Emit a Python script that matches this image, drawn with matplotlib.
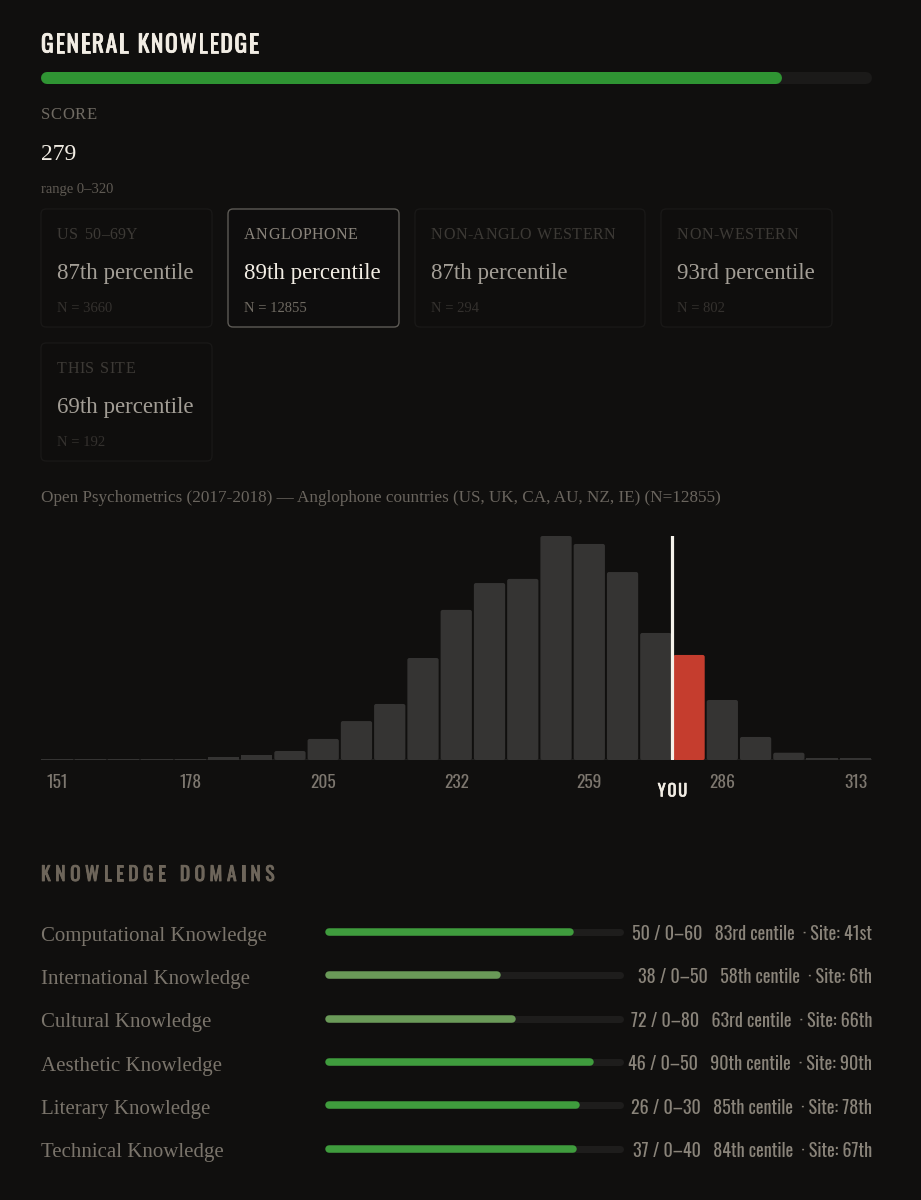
import matplotlib
matplotlib.use("Agg")
import matplotlib.pyplot as plt
from matplotlib import font_manager as fm
from matplotlib.patches import FancyBboxPatch
import matplotlib.patheffects as pe

# ---------------- data ----------------
title = "GENERAL KNOWLEDGE"
score = 279
score_min, score_max = 0, 320
overall_percentile = 89

card_groups = ["US 50–69Y", "ANGLOPHONE", "NON-ANGLO WESTERN", "NON-WESTERN", "THIS SITE"]
card_percentiles = [87, 89, 87, 93, 69]
card_ns = [3660, 12855, 294, 802, 192]
card_active = [False, True, False, False, False]

source_text = "Open Psychometrics (2017-2018) — Anglophone countries (US, UK, CA, AU, NZ, IE) (N=12855)"

hist_bin_start = 151
hist_bin_width = 6.75
hist_counts = [8, 8, 8, 8, 11, 23, 35, 68, 159, 294, 423, 770, 1133, 1336, 1367,
               1691, 1631, 1419, 959, 793, 453, 174, 55, 15, 15]
hist_tick_labels = [151, 178, 205, 232, 259, 286, 313]

domain_names = ["Computational Knowledge", "International Knowledge", "Cultural Knowledge",
                "Aesthetic Knowledge", "Literary Knowledge", "Technical Knowledge"]
domain_scores = [50, 38, 72, 46, 26, 37]
domain_max = [60, 50, 80, 50, 30, 40]
domain_centiles = [83, 58, 63, 90, 85, 84]
domain_site = [41, 6, 66, 90, 78, 67]

# ---------------- style ----------------
BG = "#100f0e"
WHITE = "#f2ede4"
GREEN = "#2f9433"
GREEN_HI = "#3f9c3d"
GREEN_MID = "#6a9a58"
TRACK = "#1e1d1c"
BAR = "#353433"
RED = "#c53d2e"

names = {f.name for f in fm.fontManager.ttflist}
SERIF = "Liberation Serif" if "Liberation Serif" in names else "DejaVu Serif"
NARROW = {"family": "DejaVu Sans"}
for cand in ["Oswald", "Roboto Condensed", "Liberation Sans Narrow", "Open Sans Condensed"]:
    if cand in names:
        NARROW = {"family": cand}
        break


def ordinal(n):
    if 10 <= n % 100 <= 20:
        suf = "th"
    else:
        suf = {1: "st", 2: "nd", 3: "rd"}.get(n % 10, "th")
    return f"{n}{suf}"


def bold_fx(color, w=0.6):
    return [pe.withStroke(linewidth=w, foreground=color)]


W, H = 921, 1200
fig = plt.figure(figsize=(W / 100, H / 100), dpi=100, facecolor=BG)
ax0 = fig.add_axes([0, 0, 1, 1])
ax0.set_xlim(0, W)
ax0.set_ylim(H, 0)
ax0.axis("off")
ax0.set_facecolor(BG)
renderer = fig.canvas.get_renderer()


def spaced(ax, x, y, s, track, center=False, **kw):
    texts = []
    x_start = x
    for ch in s:
        if ch == " ":
            t = ax.text(x, y, "n", ha="left", va="center", alpha=0, **kw)
            w = t.get_window_extent(renderer).width * 0.6
            t.remove()
        else:
            t = ax.text(x, y, ch, ha="left", va="center", **kw)
            w = t.get_window_extent(renderer).width
            texts.append(t)
        x += w + track
    total = x - track - x_start
    if center:
        for t in texts:
            t.set_x(t.get_position()[0] - total / 2)
    return total


def px_axes(x0, y0, x1, y1):
    return fig.add_axes([x0 / W, 1 - y1 / H, (x1 - x0) / W, (y1 - y0) / H])


# ---------------- header ----------------
spaced(ax0, 41, 45, title, 1.6, color=WHITE, fontsize=17, path_effects=bold_fx(WHITE, 0.6), **NARROW)

axp = px_axes(47, 72, 866, 84)
axp.set_xlim(0, 100)
axp.set_ylim(-1, 1)
axp.axis("off")
axp.plot([0, 100], [0, 0], color="#1b1a19", lw=12 * 0.72, solid_capstyle="round", clip_on=False)
axp.plot([0, overall_percentile], [0, 0], color=GREEN, lw=12 * 0.72, solid_capstyle="round",
         clip_on=False)

spaced(ax0, 41, 115, "SCORE", 0.6, color="#6f6a62", fontsize=12, family=SERIF)
ax0.text(41, 154, str(score), color=WHITE, fontsize=17, family=SERIF, va="center", ha="left")
ax0.text(41, 189, f"range {score_min}–{score_max}", color="#5f5a53", fontsize=10.5,
         family=SERIF, va="center", ha="left")

# ---------------- cards ----------------
card_boxes = [(41, 209, 212, 327), (228, 209, 399, 327), (415, 209, 645, 327),
              (661, 209, 832, 327), (41, 343, 212, 461)]
for (x0, y0, x1, y1), g, p, n, act in zip(card_boxes, card_groups, card_percentiles,
                                          card_ns, card_active):
    ec = "#5d5a55" if act else "#191817"
    fc = "#0e0d0d" if act else "#0f0e0d"
    ax0.add_patch(FancyBboxPatch((x0, y0), x1 - x0, y1 - y0,
                                 boxstyle="round,pad=0,rounding_size=5",
                                 ec=ec, fc=fc, lw=1.0))
    spaced(ax0, x0 + 16, y0 + 26, g, 0.5,
           color="#8c867d" if act else "#3d3a36", fontsize=11.5, family=SERIF)
    ax0.text(x0 + 16, y0 + 65, f"{ordinal(p)} percentile",
             color=WHITE if act else "#a39e96", fontsize=16.5, family=SERIF,
             va="center", ha="left")
    ax0.text(x0 + 16, y0 + 99, f"N = {n}", color="#6f6a62" if act else "#34312e",
             fontsize=10.5, family=SERIF, va="center", ha="left")

ax0.text(41, 498, source_text, color="#6a655e", fontsize=12.3, family=SERIF,
         va="center", ha="left")

# ---------------- histogram ----------------
axh = px_axes(40.5, 536, 872, 760)
axh.set_facecolor("none")
idx = list(range(len(hist_counts)))
you_bin = int(round((score - hist_bin_start) / hist_bin_width))
colors = [RED if i == you_bin else BAR for i in idx]
axh.set_xlim(-0.5, len(hist_counts) - 0.5)
axh.set_ylim(0, max(hist_counts))
bars = axh.bar(idx, hist_counts, width=0.94, color=colors, linewidth=0)

# round the bar corners slightly (2 px) using the axes' own scale
px_per_x = 831.5 / len(hist_counts)
px_per_y = 224.0 / max(hist_counts)
r_px = 2.0
for rect in bars.patches:
    hpx = rect.get_height() * px_per_y
    if hpx > 2 * r_px + 1:
        rr = FancyBboxPatch((rect.get_x(), rect.get_y()), rect.get_width(), rect.get_height(),
                            boxstyle=f"round,pad=0,rounding_size={r_px / px_per_x}",
                            mutation_aspect=px_per_x / px_per_y,
                            fc=rect.get_facecolor(), ec="none", lw=0)
        rect.set_visible(False)
        axh.add_patch(rr)

for s in axh.spines.values():
    s.set_visible(False)
axh.axhline(0, color="#252423", lw=1.2, zorder=0)
axh.axvline(you_bin - 0.5, color="#f5f2ea", lw=2.3, zorder=5)
tick_idx = [int(round((v - hist_bin_start) / hist_bin_width)) for v in hist_tick_labels]
axh.set_xticks(tick_idx)
axh.set_xticklabels([str(v) for v in hist_tick_labels], color="#7d776f", fontsize=12.5, **NARROW)
axh.tick_params(axis="x", length=0, pad=10)
axh.set_yticks([])

xyou = axh.transData.transform((you_bin - 0.5, 0))[0]
spaced(ax0, xyou, 791, "YOU", 1.8, center=True, color=WHITE, fontsize=12,
       path_effects=bold_fx(WHITE, 0.4), **NARROW)

# ---------------- domains ----------------
spaced(ax0, 41, 874, "KNOWLEDGE DOMAINS", 4.5, color="#6e665b", fontsize=14,
       path_effects=bold_fx("#6e665b", 0.6), **NARROW)

axd = px_axes(328.5, 910.4, 619.5, 1170.4)
axd.set_xlim(0, 100)
axd.set_ylim(len(domain_names) - 0.5, -0.5)
axd.axis("off")
for i, (name, sc, mx, c, st) in enumerate(zip(domain_names, domain_scores, domain_max,
                                                domain_centiles, domain_site)):
    col = GREEN_HI if c >= 80 else GREEN_MID
    axd.plot([0, 100], [i, i], color=TRACK, lw=7 * 0.72, solid_capstyle="round", clip_on=False)
    axd.plot([0, c], [i, i], color=col, lw=7.5 * 0.72, solid_capstyle="round", clip_on=False)
    ycen = 932 + i * 43.4
    ax0.text(41, ycen + 4, name, color="#7a746b", fontsize=15, family=SERIF,
             va="center", ha="left")
    ax0.text(872, ycen + 2, f"{sc} / 0–{mx}   {ordinal(c)} centile  · Site: {ordinal(st)}",
             color="#8a847a", fontsize=13, va="center", ha="right", **NARROW)

fig.savefig("out.png", dpi=100, facecolor=BG)
